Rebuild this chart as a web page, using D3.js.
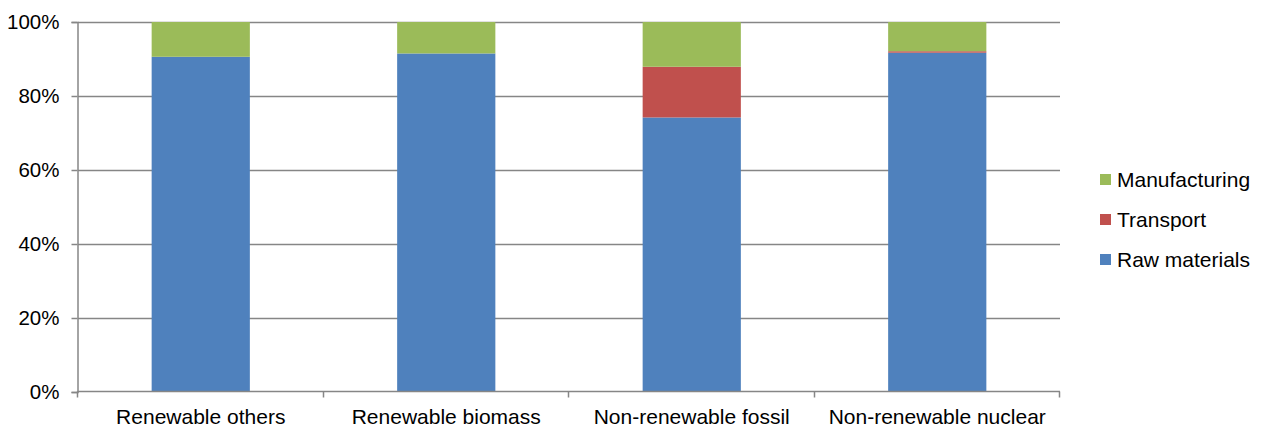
<!DOCTYPE html>
<html>
<head>
<meta charset="utf-8">
<script src="https://cdn.jsdelivr.net/npm/d3@7"></script>
<style>
  html, body { margin: 0; padding: 0; background: #fff; }
  svg { display: block; }
  text { font-family: "Liberation Sans", Arial, sans-serif; fill: #000; }
</style>
</head>
<body>
<svg id="chart" width="1263" height="427"></svg>
<script>
// Share of impact by life-cycle stage, per energy source (fractions of 1)
const categories = ["Renewable others", "Renewable biomass", "Non-renewable fossil", "Non-renewable nuclear"];
const seriesNames = ["Raw materials", "Transport", "Manufacturing"];
const rawMaterials = [0.906, 0.915, 0.742, 0.917];
const transport = [0.000, 0.000, 0.137, 0.004];
const manufacturing = [0.094, 0.085, 0.121, 0.079];
const yTicks = [0, 0.2, 0.4, 0.6, 0.8, 1.0];
const colors = ["#4F81BD", "#C0504D", "#9BBB59"];

const rows = categories.map((c, i) => ({
  category: c,
  "Raw materials": rawMaterials[i],
  "Transport": transport[i],
  "Manufacturing": manufacturing[i]
}));

const svg = d3.select("#chart");
const plot = { left: 78, right: 1060, top: 22, bottom: 392 };

const x = d3.scaleBand()
  .domain(categories)
  .range([plot.left, plot.right])
  .paddingInner(0.6)
  .paddingOuter(0.3);

const y = d3.scaleLinear().domain([0, 1]).range([plot.bottom, plot.top]);

const color = d3.scaleOrdinal().domain(seriesNames).range(colors);

// Horizontal gridlines
svg.append("g")
  .selectAll("line")
  .data(yTicks.filter(t => t > 0))
  .join("line")
  .attr("x1", plot.left).attr("x2", plot.right)
  .attr("y1", d => Math.round(y(d)) + 0.5).attr("y2", d => Math.round(y(d)) + 0.5)
  .attr("stroke", "#868686").attr("stroke-width", 1.5);

// Stacked bars
const stacked = d3.stack().keys(seriesNames)(rows);
svg.append("g")
  .selectAll("g")
  .data(stacked)
  .join("g")
  .attr("fill", d => color(d.key))
  .selectAll("rect")
  .data(d => d)
  .join("rect")
  .attr("x", d => x(d.data.category))
  .attr("width", x.bandwidth())
  .attr("y", d => y(d[1]))
  .attr("height", d => y(d[0]) - y(d[1]));

// Y axis
const yAxis = svg.append("g")
  .attr("transform", `translate(${plot.left - 0.5},0)`)
  .call(d3.axisLeft(y).tickValues(yTicks).tickFormat(d3.format(".0%")).tickSize(6).tickPadding(12));
yAxis.select(".domain").attr("stroke", "#868686").attr("stroke-width", 1.5);
yAxis.selectAll(".tick line").attr("stroke", "#868686").attr("stroke-width", 1.5);
yAxis.selectAll(".tick text").attr("font-size", "20.5px").attr("font-family", "Liberation Sans, Arial, sans-serif");

// X axis with ticks on category boundaries
const xAxisG = svg.append("g");
xAxisG.append("line")
  .attr("x1", plot.left - 0.5).attr("x2", plot.right)
  .attr("y1", plot.bottom - 0.5).attr("y2", plot.bottom - 0.5)
  .attr("stroke", "#868686").attr("stroke-width", 1.5);
const step = x.step();
const boundaries = d3.range(categories.length + 1).map(i => plot.left + i * step);
xAxisG.selectAll("line.tk")
  .data(boundaries)
  .join("line")
  .attr("class", "tk")
  .attr("x1", d => Math.round(d) - 0.5).attr("x2", d => Math.round(d) - 0.5)
  .attr("y1", plot.bottom - 0.5).attr("y2", plot.bottom + 5.5)
  .attr("stroke", "#868686").attr("stroke-width", 1.5);
xAxisG.selectAll("text")
  .data(categories)
  .join("text")
  .attr("x", d => x(d) + x.bandwidth() / 2)
  .attr("y", 424)
  .attr("text-anchor", "middle")
  .attr("font-size", "21px")
  .text(d => d);

// Legend (top-down: Manufacturing, Transport, Raw materials)
const legendItems = seriesNames.slice().reverse();
const legend = svg.append("g").attr("transform", "translate(1100,174)");
const li = legend.selectAll("g")
  .data(legendItems)
  .join("g")
  .attr("transform", (d, i) => `translate(0,${i * 40})`);
li.append("rect")
  .attr("width", 11).attr("height", 11)
  .attr("fill", d => color(d));
li.append("text")
  .attr("x", 17).attr("y", 12.5)
  .attr("font-size", "21px")
  .text(d => d);
</script>
</body>
</html>
